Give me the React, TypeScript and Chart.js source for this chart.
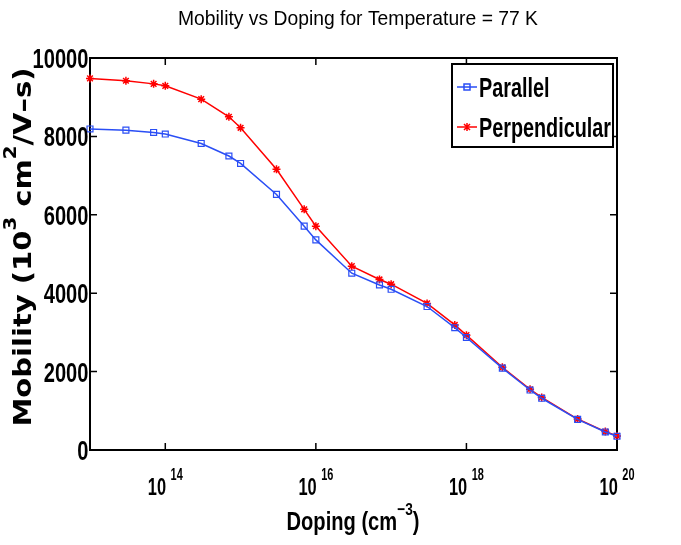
import { useEffect, useRef } from "react";
import { Chart, registerables } from "chart.js";

Chart.register(...registerables);

// doping concentrations (cm^-3) and mobilities
const doping = [
   1e13, 3e13, 7e13, 1e14, 3e14, 7e14, 1e15, 3e15, 7e15, 1e16, 3e16, 7e16, 1e17, 3e17, 7e17, 1e18, 3e18,
   7e18, 1e19, 3e19, 7e19, 1e20,
];
const parallel = [
   8190, 8160, 8100, 8060, 7820, 7500, 7310, 6520, 5710, 5360, 4510, 4210, 4100, 3660, 3120, 2870, 2090,
   1530, 1320, 780, 460, 350,
];
const perpendicular = [
   9480, 9420, 9340, 9290, 8950, 8500, 8220, 7160, 6140, 5710, 4690, 4350, 4230, 3740, 3190, 2930, 2110,
   1550, 1340, 790, 470, 360,
];
const xTickExps = [14, 16, 18, 20];
const yTicks = [0, 2000, 4000, 6000, 8000, 10000];

const BLUE = "#2a4ef5";
const RED = "#ff0000";
const FONT = "'Liberation Sans', Arial, sans-serif";
const WIDE = "'DejaVu Sans', Verdana, sans-serif";

type Seg = { t: string; sup?: boolean };

// draw a run of text squeezed horizontally by sx
function drawRich(
   ctx: CanvasRenderingContext2D,
   segs: Seg[],
   x: number,
   y: number,
   size: number,
   weight: string,
   family: string,
   sx: number,
   align: "left" | "center" | "right"
) {
   const supSize = Math.round(size * 0.68);
   const widths = segs.map((s) => {
      ctx.font = `${weight} ${s.sup ? supSize : size}px ${family}`;
      return ctx.measureText(s.t).width * sx;
   });
   const total = widths.reduce((a, b) => a + b, 0);
   let cx = align === "left" ? x : align === "right" ? x - total : x - total / 2;
   segs.forEach((s, i) => {
      ctx.save();
      ctx.font = `${weight} ${s.sup ? supSize : size}px ${family}`;
      ctx.textAlign = "left";
      ctx.textBaseline = "alphabetic";
      ctx.translate(cx, s.sup ? y - size * 0.62 : y);
      ctx.scale(sx, 1);
      ctx.fillText(s.t, 0, 0);
      ctx.restore();
      cx += widths[i];
   });
   return total;
}

const framePlugin = {
   id: "matlabFrame",
   beforeDatasetsDraw(chart: Chart) {
      const { ctx, chartArea: a } = chart;
      const xs = chart.scales.x;
      const ys = chart.scales.y;
      ctx.save();
      ctx.strokeStyle = "#000";
      ctx.lineWidth = 2;
      ctx.strokeRect(a.left, a.top, a.right - a.left, a.bottom - a.top);
      ctx.lineWidth = 1.5;
      ctx.beginPath();
      xTickExps.forEach((e) => {
         const px = xs.getPixelForValue(Math.pow(10, e));
         ctx.moveTo(px, a.bottom);
         ctx.lineTo(px, a.bottom - 7);
         ctx.moveTo(px, a.top);
         ctx.lineTo(px, a.top + 7);
      });
      yTicks.forEach((v) => {
         const py = ys.getPixelForValue(v);
         ctx.moveTo(a.left, py);
         ctx.lineTo(a.left + 7, py);
         ctx.moveTo(a.right, py);
         ctx.lineTo(a.right - 7, py);
      });
      ctx.stroke();
      ctx.restore();
   },
   afterDraw(chart: Chart) {
      const { ctx, chartArea: a } = chart;
      const xs = chart.scales.x;
      const ys = chart.scales.y;
      ctx.save();
      ctx.fillStyle = "#000";

      // title
      ctx.font = `21px ${FONT}`;
      const tStr = "Mobility vs Doping for Temperature = 77 K";
      const tSx = 360 / ctx.measureText(tStr).width;
      drawRich(ctx, [{ t: tStr }], 358, 25, 21, "normal", FONT, tSx, "center");

      // y tick labels
      ctx.font = `bold 28px ${FONT}`;
      const ySx = 56 / ctx.measureText("10000").width;
      yTicks.forEach((v) => {
         drawRich(ctx, [{ t: String(v) }], a.left - 1.5, ys.getPixelForValue(v) + 10, 28, "bold", FONT, ySx, "right");
      });

      // x tick labels 10^n
      xTickExps.forEach((e) => {
         const px = xs.getPixelForValue(Math.pow(10, e));
         drawRich(ctx, [{ t: "10" }, { t: " " }, { t: String(e), sup: true }], px, 495, 24, "bold", FONT, ySx * 0.95, "center");
      });

      // x axis title
      const xSegs: Seg[] = [{ t: "Doping (cm" }, { t: "\u22123", sup: true }, { t: ")" }];
      ctx.font = `bold 25px ${FONT}`;
      const xRaw = drawRich(ctx, xSegs, -1000, -1000, 25, "bold", FONT, 1, "left");
      drawRich(ctx, xSegs, 353, 530, 25, "bold", FONT, 133 / xRaw, "center");

      // y axis title, rotated
      const ySegs: Seg[] = [
         { t: "Mobility (10" },
         { t: "3", sup: true },
         { t: " cm" },
         { t: "2", sup: true },
         { t: "/V\u2013s)" },
      ];
      const yRaw = drawRich(ctx, ySegs, -1000, -1000, 25, "bold", WIDE, 1, "left");
      ctx.save();
      ctx.translate(31, 247);
      ctx.rotate(-Math.PI / 2);
      drawRich(ctx, ySegs, 0, 0, 25, "bold", WIDE, 359 / yRaw, "center");
      ctx.restore();

      // legend box
      const lx = 452,
         ly = 64,
         lw = 161,
         lh = 83;
      ctx.fillStyle = "#fff";
      ctx.fillRect(lx, ly, lw, lh);
      ctx.strokeStyle = "#000";
      ctx.lineWidth = 2;
      ctx.strokeRect(lx, ly, lw, lh);
      const entries = [
         { label: "Parallel", color: BLUE, y: 87, star: false },
         { label: "Perpendicular", color: RED, y: 127, star: true },
      ];
      ctx.font = `bold 28px ${FONT}`;
      const lSx = 132 / ctx.measureText("Perpendicular").width;
      entries.forEach((en) => {
         ctx.strokeStyle = en.color;
         ctx.lineWidth = 1.5;
         ctx.beginPath();
         ctx.moveTo(457, en.y);
         ctx.lineTo(477, en.y);
         ctx.stroke();
         if (en.star) {
            ctx.beginPath();
            ctx.moveTo(467, en.y - 4);
            ctx.lineTo(467, en.y + 4);
            ctx.moveTo(464, en.y - 3);
            ctx.lineTo(470, en.y + 3);
            ctx.moveTo(470, en.y - 3);
            ctx.lineTo(464, en.y + 3);
            ctx.stroke();
         } else {
            ctx.strokeRect(464, en.y - 3, 6, 6);
         }
         ctx.fillStyle = "#000";
         drawRich(ctx, [{ t: en.label }], 479, en.y + 10, 28, "bold", FONT, lSx, "left");
      });
      ctx.restore();
   },
};

export default function App() {
   const canvasRef = useRef<HTMLCanvasElement>(null);

   useEffect(() => {
      if (!canvasRef.current) return;
      const chart = new Chart(canvasRef.current, {
         type: "line",
         data: {
            labels: doping,
            datasets: [
               {
                  label: "Parallel",
                  data: doping.map((d, i) => ({ x: d, y: parallel[i] })),
                  borderColor: BLUE,
                  backgroundColor: "rgba(0,0,0,0)",
                  borderWidth: 1.5,
                  pointStyle: "rect",
                  pointRadius: 4.2,
                  pointBorderWidth: 1.2,
                  pointBorderColor: BLUE,
                  pointBackgroundColor: "rgba(255,255,255,0)",
                  clip: false,
               },
               {
                  label: "Perpendicular",
                  data: doping.map((d, i) => ({ x: d, y: perpendicular[i] })),
                  borderColor: RED,
                  backgroundColor: RED,
                  borderWidth: 1.5,
                  pointStyle: "star",
                  pointRadius: 4,
                  pointBorderWidth: 1.5,
                  pointBorderColor: RED,
                  clip: false,
               },
            ],
         },
         options: {
            responsive: false,
            animation: false,
            devicePixelRatio: 1,
            layout: { padding: { left: 0, top: 58, right: 64, bottom: 0 } },
            plugins: {
               legend: { display: false },
               title: { display: false },
               tooltip: { enabled: false },
            },
            scales: {
               x: {
                  type: "logarithmic",
                  min: 1e13,
                  max: 1e20,
                  ticks: { display: false },
                  grid: { display: false },
                  border: { display: false },
                  afterFit: (s: any) => {
                     s.height = 95;
                  },
               },
               y: {
                  type: "linear",
                  min: 0,
                  max: 10000,
                  ticks: { display: false },
                  grid: { display: false },
                  border: { display: false },
                  afterFit: (s: any) => {
                     s.width = 90;
                  },
               },
            },
         },
         plugins: [framePlugin],
      });
      return () => chart.destroy();
   }, []);

   return (
      <div style={{ position: "absolute", left: 0, top: 0, width: 681, height: 545, background: "#fff" }}>
         <canvas ref={canvasRef} width={681} height={545} />
      </div>
   );
}
